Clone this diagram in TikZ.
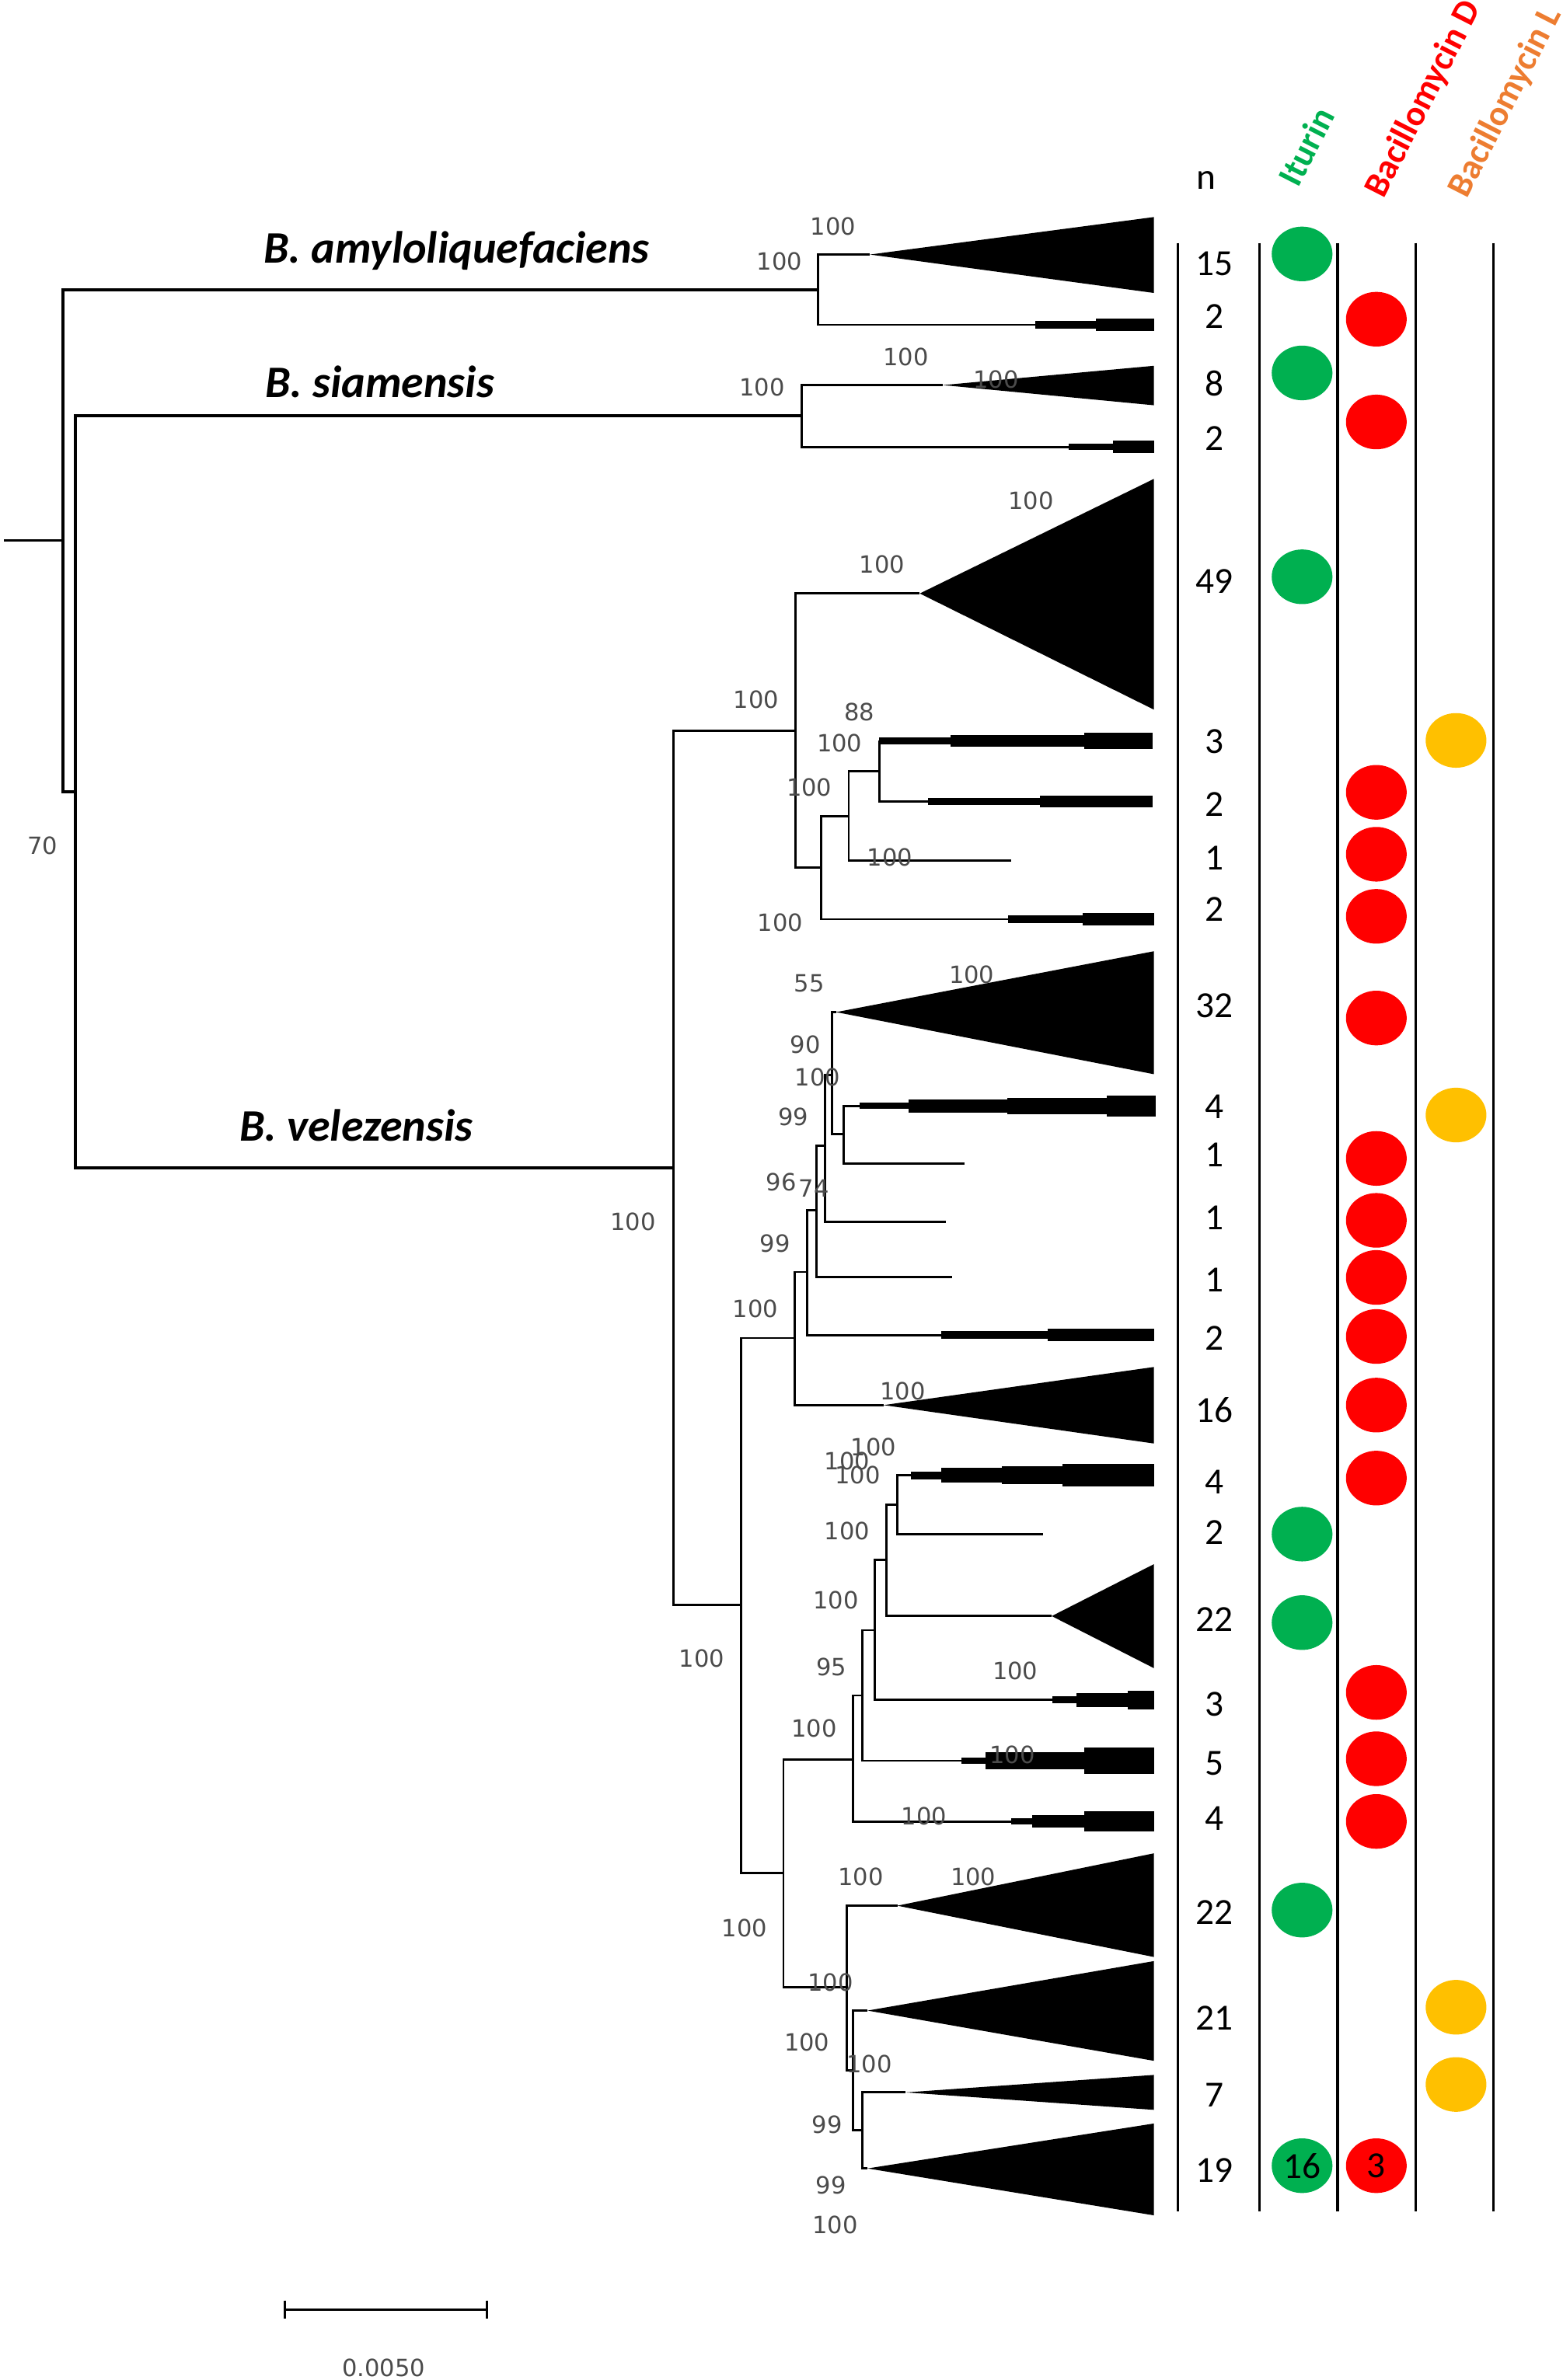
\documentclass[tikz,border=0pt]{standalone}
\usepackage{fontspec}
\setmainfont{Carlito}
\newfontfamily\bootfont{DejaVu Sans}
\usetikzlibrary{shapes.geometric}
\definecolor{ituringreen}{RGB}{0,176,80}
\definecolor{bacdred}{RGB}{255,0,0}
\definecolor{baclyellow}{RGB}{255,192,0}
\definecolor{baclorange}{RGB}{237,125,49}
\definecolor{bootgray}{RGB}{75,75,75}
\def\tip{760}
\newcommand\clade[3]{\fill (#1) -- (\tip,#2) -- (\tip,#3) -- cycle;}
\newcommand\stepbar[2]{\foreach \xa/\xb/\h in {#2} {\fill (\xa,{#1-\h/2}) rectangle (\xb,{#1+\h/2});}}

\begin{document}
\begin{tikzpicture}[x=0.02cm,y=-0.02cm,line width=0.85pt,
  boot/.style={font=\bootfont\fontsize{8.9}{10}\selectfont,text=bootgray,inner sep=0pt},
  count/.style={font=\fontsize{13.8}{16}\selectfont,inner sep=0pt},
  head/.style={font=\bfseries\fontsize{13.3}{15}\selectfont,rotate=63,anchor=base west,inner sep=0pt},
  species/.style={font=\bfseries\itshape\fontsize{16.9}{19}\selectfont,anchor=base west,inner sep=0pt},
  dot/.style={ellipse,minimum width=0.8cm,minimum height=0.72cm,inner sep=0pt,
    font=\fontsize{13.8}{16}\selectfont},
  col/.style={line width=0.9pt}]
\useasboundingbox (0,0) rectangle (1029,1568);

% tree nodes
\coordinate (r0) at (2.6,356);
\coordinate (root) at (41.5,356);
\coordinate (sv) at (49.5,521.5);
\coordinate (amy) at (539,191);
\coordinate (sia) at (528,274);
\coordinate (vel) at (443.5,769.5);
\coordinate (nA) at (524,481.5);
\coordinate (nB) at (541,571.6);
\coordinate (nC) at (559,537.6);
\coordinate (nD) at (579,508);
\coordinate (nE) at (488,1057.5);
\coordinate (nF) at (523.6,881.5);
\coordinate (nG) at (531.5,838);
\coordinate (nH) at (537.6,797.5);
\coordinate (nI) at (543.6,755);
\coordinate (nJ) at (547.8,708);
\coordinate (nK) at (555.6,747);
\coordinate (nL) at (516,1234);
\coordinate (nM) at (562,1159);
\coordinate (nN) at (568,1117);
\coordinate (nO) at (576,1074);
\coordinate (nP) at (584,1027.5);
\coordinate (nQ) at (591,991.5);
\coordinate (nR) at (557.5,1309);
\coordinate (nS) at (562,1364);
\coordinate (nT) at (568,1403.5);
% tips: clades, bars, leaves
\coordinate (t15) at (573,167.7);
\coordinate (b2a) at (682,214);
\coordinate (t8) at (621,253.7);
\coordinate (b2b) at (704,294.4);
\coordinate (t49) at (605.8,391);
\coordinate (b3a) at (579,488);
\coordinate (b2d) at (611,528);
\coordinate (l1a) at (666,567);
\coordinate (b2c) at (664,605.6);
\coordinate (t32) at (550.7,666.8);
\coordinate (b4a) at (566,728.6);
\coordinate (l1d) at (635.5,766.6);
\coordinate (l1c) at (623,805);
\coordinate (l1b) at (627,841.5);
\coordinate (b2e) at (620,879.5);
\coordinate (t16) at (582,925.7);
\coordinate (b4c) at (600,972);
\coordinate (l2) at (687,1011);
\coordinate (t22a) at (692.7,1064.7);
\coordinate (b3b) at (693,1120);
\coordinate (b5) at (633,1160);
\coordinate (b4b) at (666,1200);
\coordinate (t22b) at (591,1255.5);
\coordinate (t21) at (571.4,1324.6);
\coordinate (t7) at (596.6,1378.5);
\coordinate (t19) at (571.4,1428.6);

% branches
\draw[line width=1.1pt] (r0) -- (root);
\draw[line width=1.1pt] (root) |- (amy); \draw[line width=1.1pt] (root) |- (sv);
\draw[line width=1.1pt] (sv) |- (sia); \draw[line width=1.1pt] (sv) |- (vel);
\draw (amy) |- (t15); \draw (amy) |- (b2a);
\draw (sia) |- (t8); \draw (sia) |- (b2b);
\draw (vel) |- (nA); \draw (vel) |- (nE);
\draw (nA) |- (t49); \draw (nA) |- (nB);
\draw (nB) |- (nC); \draw (nB) |- (b2c);
\draw (nC) |- (nD); \draw (nC) |- (l1a);
\draw (nD) |- (b3a); \draw (nD) |- (b2d);
\draw (nE) |- (nF); \draw (nE) |- (nL);
\draw (nF) |- (nG); \draw (nF) |- (t16);
\draw (nG) |- (nH); \draw (nG) |- (b2e);
\draw (nH) |- (nI); \draw (nH) |- (l1b);
\draw (nI) |- (nJ); \draw (nI) |- (l1c);
\draw (nJ) |- (t32); \draw (nJ) |- (nK);
\draw (nK) |- (b4a); \draw (nK) |- (l1d);
\draw (nL) |- (nM); \draw (nL) |- (nR);
\draw (nM) |- (nN); \draw (nM) |- (b4b);
\draw (nN) |- (nO); \draw (nN) |- (b5);
\draw (nO) |- (nP); \draw (nO) |- (b3b);
\draw (nP) |- (nQ); \draw (nP) |- (t22a);
\draw (nQ) |- (b4c); \draw (nQ) |- (l2);
\draw (nR) |- (t22b); \draw (nR) |- (nS);
\draw (nS) |- (t21); \draw (nS) |- (nT);
\draw (nT) |- (t7); \draw (nT) |- (t19);

% collapsed clades
\clade{t15}{143}{193}
\clade{t8}{241}{267}
\clade{t49}{315.5}{467.5}
\clade{t32}{626.7}{707.7}
\clade{t16}{900.6}{951}
\clade{t22a}{1030.5}{1099}
\clade{t22b}{1221}{1289.3}
\clade{t21}{1292}{1357.7}
\clade{t7}{1367}{1390}
\clade{t19}{1399}{1459.5}
\stepbar{214}{682/722/5,722/760/8}
\stepbar{294.4}{704/733/4.5,733/760/8}
\stepbar{488}{579/626/4.5,626/714/7.5,714/759/11}
\stepbar{528}{611/685/5,685/759/8}
\stepbar{605.6}{664/713/5,713/760/8}
\stepbar{728.6}{566/598.5/4,598.5/663.5/8.5,663.5/729/10.7,729/761/13.7}
\stepbar{879.5}{620/690/5,690/760/8}
\stepbar{972}{600/620/5,620/660/9.6,660/700/12,700/760/15}
\stepbar{1120}{693/709/4.5,709/743/9,743/760/12}
\stepbar{1160}{633/649/4,649/714/11,714/760/17}
\stepbar{1200}{666/680/4,680/714/8,714/760/13.5}

% bootstrap values
\foreach \x/\y/\t [count=\i] in {548.8/149/100, 513.5/172/100, 596.6/235/100,
  656/250/100, 502/255/100, 679/330/100, 581/372/100, 498/461/100, 566/469/88,
  553/489.5/100, 533/518.7/100, 586/565/100, 514/608/100, 533/648/55,
  640/642/100, 530.5/688/90, 538.6/709.5/100, 522.5/736/99, 514.6/779/96,
  536/783/74, 510.4/819/99, 497.5/862/100, 417/805/100, 594.5/916.5/100,
  575.3/953.3/100, 558/962.4/100, 565/971.6/100, 558/1008.7/100,
  550.6/1054.4/100, 547.5/1098/95, 668.7/1100.9/100, 536.3/1138.9/100,
  666.7/1156/100, 462.3/1092.8/100, 608.6/1196.3/100, 567/1236.5/100,
  641/1236.5/100, 490.3/1270/100, 547/1306/100, 531.5/1345.7/100,
  572.5/1360/100, 544.8/1400/99, 547.3/1439.8/99, 550/1465.7/100, 28/557/70}
  \node[boot] (bs\i) at (\x,\y) {\t};

% species
\node[species] (samy) at (173,173.5) {B. amyloliquefaciens};
\node[species] (ssia) at (174,262) {B. siamensis};
\node[species] (svel) at (157,751.5) {B. velezensis};

% table
\foreach \x in {776,829.5,881,932.4,983.6}
  \draw[col] (\x,160) -- (\x,1457);
\node[count] (nhead) at (794.5,118.6) {n};
\node[head,text=ituringreen] (hitu) at (855,124.6) {Iturin};
\node[head,text=bacdred] (hbacd) at (911,132) {Bacillomycin D};
\node[head,text=baclorange] (hbacl) at (966,132) {Bacillomycin L};
\foreach \y/\n [count=\i] in {173.6/15, 208.5/2, 252.6/8, 289/2, 382.9/49,
  488.3/3, 530/2, 565.4/1, 599/2, 662.6/32, 729/4, 761/1, 802.3/1, 843.3/1,
  881.7/2, 928.7/16, 976.5/4, 1009.7/2, 1067/22, 1123/3, 1161.8/5, 1198/4,
  1260/22, 1329.7/21, 1380.4/7, 1430/19}
  \node[count] (n\i) at (800,\y) {\n};
\foreach \y [count=\i] in {167.3,245.7,380,1010.7,1069,1258.4}
  \node[dot,fill=ituringreen] (itu\i) at (857.6,\y) {};
\node[dot,fill=ituringreen] (itu7) at (857.6,1426.8) {16};
\foreach \y [count=\i] in {210.3,278,522,562.8,603.7,670.7,763.2,804,841.6,
  880.5,925.7,973.8,1115,1158.7,1200}
  \node[dot,fill=bacdred] (bacd\i) at (906.5,\y) {};
\node[dot,fill=bacdred] (bacd16) at (906.5,1426.8) {3};
\foreach \y [count=\i] in {487.8,734.6,1322.4,1373.3}
  \node[dot,fill=baclyellow] (bacl\i) at (959,\y) {};

% scale bar
\coordinate (sbl) at (187.7,1521.6);
\coordinate (sbr) at (320.5,1521.6);
\draw (sbl) -- (sbr);
\draw (sbl) ++(0,-6) -- ++(0,12);
\draw (sbr) ++(0,-6) -- ++(0,12);
\node[boot] (sbtext) at (252.6,1560) {0.0050};
\end{tikzpicture}
\end{document}
